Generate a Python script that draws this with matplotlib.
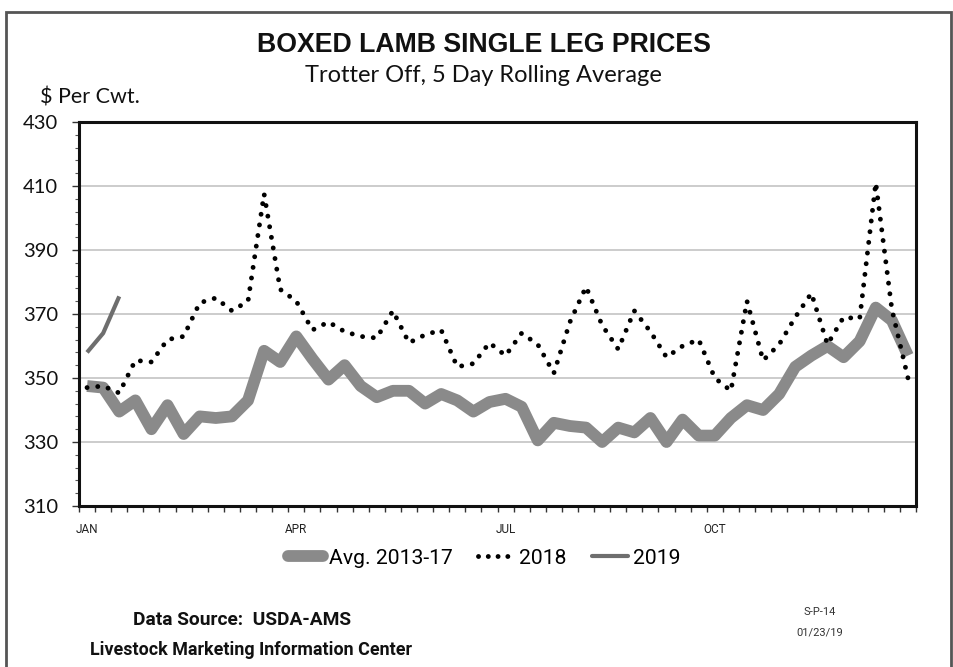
import matplotlib
matplotlib.use("Agg")
import matplotlib.pyplot as plt
from matplotlib.lines import Line2D
from matplotlib.patches import Rectangle
import numpy as np

weeks = list(range(52))
avg_2013_17 = [347.5, 347, 339.5, 343, 334, 341.5, 332.5, 338, 337.5, 338,
               343, 358.5, 355, 363, 356, 349.5, 354, 347.5, 344, 346,
               346, 342, 345, 343, 339.5, 342.5, 343.5, 341, 330.5, 336,
               335, 334.5, 330, 334.5, 333, 337.5, 330, 337, 332, 332,
               337.5, 341.5, 340, 345, 353.5, 357, 360, 356.5, 361.5, 372,
               368, 357]
y2018 = [347, 347.5, 345.3, 355.5, 355, 362, 363, 373.5, 375, 371,
         374, 407.5, 377.7, 374, 365, 367.5, 364.5, 363, 362.5, 371,
         361, 363.5, 365, 353.5, 354.5, 361, 357, 364, 360.5, 351.5,
         367.5, 378.5, 366.5, 359, 371, 364.5, 356.5, 360, 362, 350,
         346, 374, 355.5, 360.5, 369, 376.5, 360.5, 369, 368.5, 411,
         371.5, 350]
y2019 = [358, 364, 375.5]
month_labels = ["JAN", "APR", "JUL", "OCT"]
month_weeks = [0, 13, 26, 39]
series_names = ["Avg. 2013-17", "2018", "2019"]

NARROW = ["Roboto", "DejaVu Sans"]

W, H = 954, 667
fig = plt.figure(figsize=(W / 100, H / 100), dpi=100)
ax = fig.add_axes([79 / W, 1 - 506 / H, (916 - 79) / W, (506 - 122) / H])

x = np.array(weeks) + 0.5
ax.plot(x, avg_2013_17, color="#8a8a8a", lw=8.5, solid_joinstyle="round",
        solid_capstyle="butt", zorder=3, label=series_names[0])
ax.plot(x, y2018, color="#000000", lw=3.5, linestyle=(0, (0.01, 2.2)),
        dash_capstyle="round", zorder=4, label=series_names[1])
ax.plot(x[:len(y2019)], y2019, color="#6e6e6e", lw=3.0, zorder=4,
        solid_capstyle="butt", label=series_names[2])

ax.set_xlim(0, 52)
ax.set_ylim(310, 430)
ax.set_yticks(np.arange(310, 431, 20))
ax.set_yticks(np.arange(310, 431, 4), minor=True)
ax.yaxis.grid(True, which="major", color="#c8c8c8", lw=1.3, zorder=1)
ax.set_axisbelow(True)
ax.set_xticks(np.arange(0, 53, 1))
ax.set_xticklabels([])
ax.tick_params(axis="x", which="major", length=4, width=1, color="#333333")
ax.set_xticks([m + 0.5 for m in month_weeks], minor=True)
ax.set_xticklabels(month_labels, minor=True, family=NARROW,
                   fontsize=8.5, color="#222222")
ax.tick_params(axis="x", which="minor", length=0, pad=12)
ax.tick_params(axis="y", which="major", length=5, width=1, color="#333333",
               labelsize=14.5, pad=10)
ax.tick_params(axis="y", which="minor", length=3, width=0.8, color="#555555")
for lab in ax.get_yticklabels():
    lab.set_family(["Lato", "DejaVu Sans"])
    lab.set_color("#111111")
for s in ax.spines.values():
    s.set_linewidth(2.2)
    s.set_color("#111111")

# outer frame
fig.patches.append(Rectangle((6 / W, -0.05), (951 - 6) / W, 1 - 12 / H + 0.05,
                             transform=fig.transFigure, fill=False,
                             edgecolor="#555555", lw=2.0))

fig.text(484 / W, 1 - 45 / H, "BOXED LAMB SINGLE LEG PRICES",
         ha="center", va="center", fontsize=19.2, fontweight="bold",
         family=["Liberation Sans", "DejaVu Sans"], color="#111111")
fig.text(483 / W, 1 - 76 / H, "Trotter Off, 5 Day Rolling Average",
         ha="center", va="center", fontsize=17,
         family=["Lato", "DejaVu Sans"], color="#111111")
fig.text(40 / W, 1 - 97 / H, "$ Per Cwt.", ha="left", va="center",
         fontsize=15.5, family=["Lato", "DejaVu Sans"], color="#111111")

handles = [Line2D([], [], color="#8a8a8a", lw=8.5, solid_capstyle="round"),
           Line2D([], [], color="#000000", lw=3.5, linestyle=(0, (0.01, 2.0)),
                  dash_capstyle="round"),
           Line2D([], [], color="#6e6e6e", lw=3.0, solid_capstyle="round")]
leg = fig.legend(handles, series_names, loc="center", bbox_to_anchor=(484 / W, 1 - 558 / H),
                 ncol=3, frameon=False, handlelength=1.7, handletextpad=0.25,
                 columnspacing=1.2, prop={"family": NARROW, "size": 15.2})

fig.text(133 / W, 1 - 620 / H, "Data Source:  USDA-AMS", ha="left", va="center",
         fontsize=13.8, fontweight="bold", family=NARROW, color="#111111")
fig.text(90 / W, 1 - 650 / H, "Livestock Marketing Information Center", ha="left", va="center",
         fontsize=12.9, fontweight="bold", family=NARROW, color="#111111")
fig.text(820 / W, 1 - 612 / H, "S-P-14", ha="center", va="center", fontsize=8,
         family=NARROW, color="#333333")
fig.text(820 / W, 1 - 632 / H, "01/23/19", ha="center", va="center", fontsize=8,
         family=NARROW, color="#333333")

fig.savefig("out.png", dpi=100)
